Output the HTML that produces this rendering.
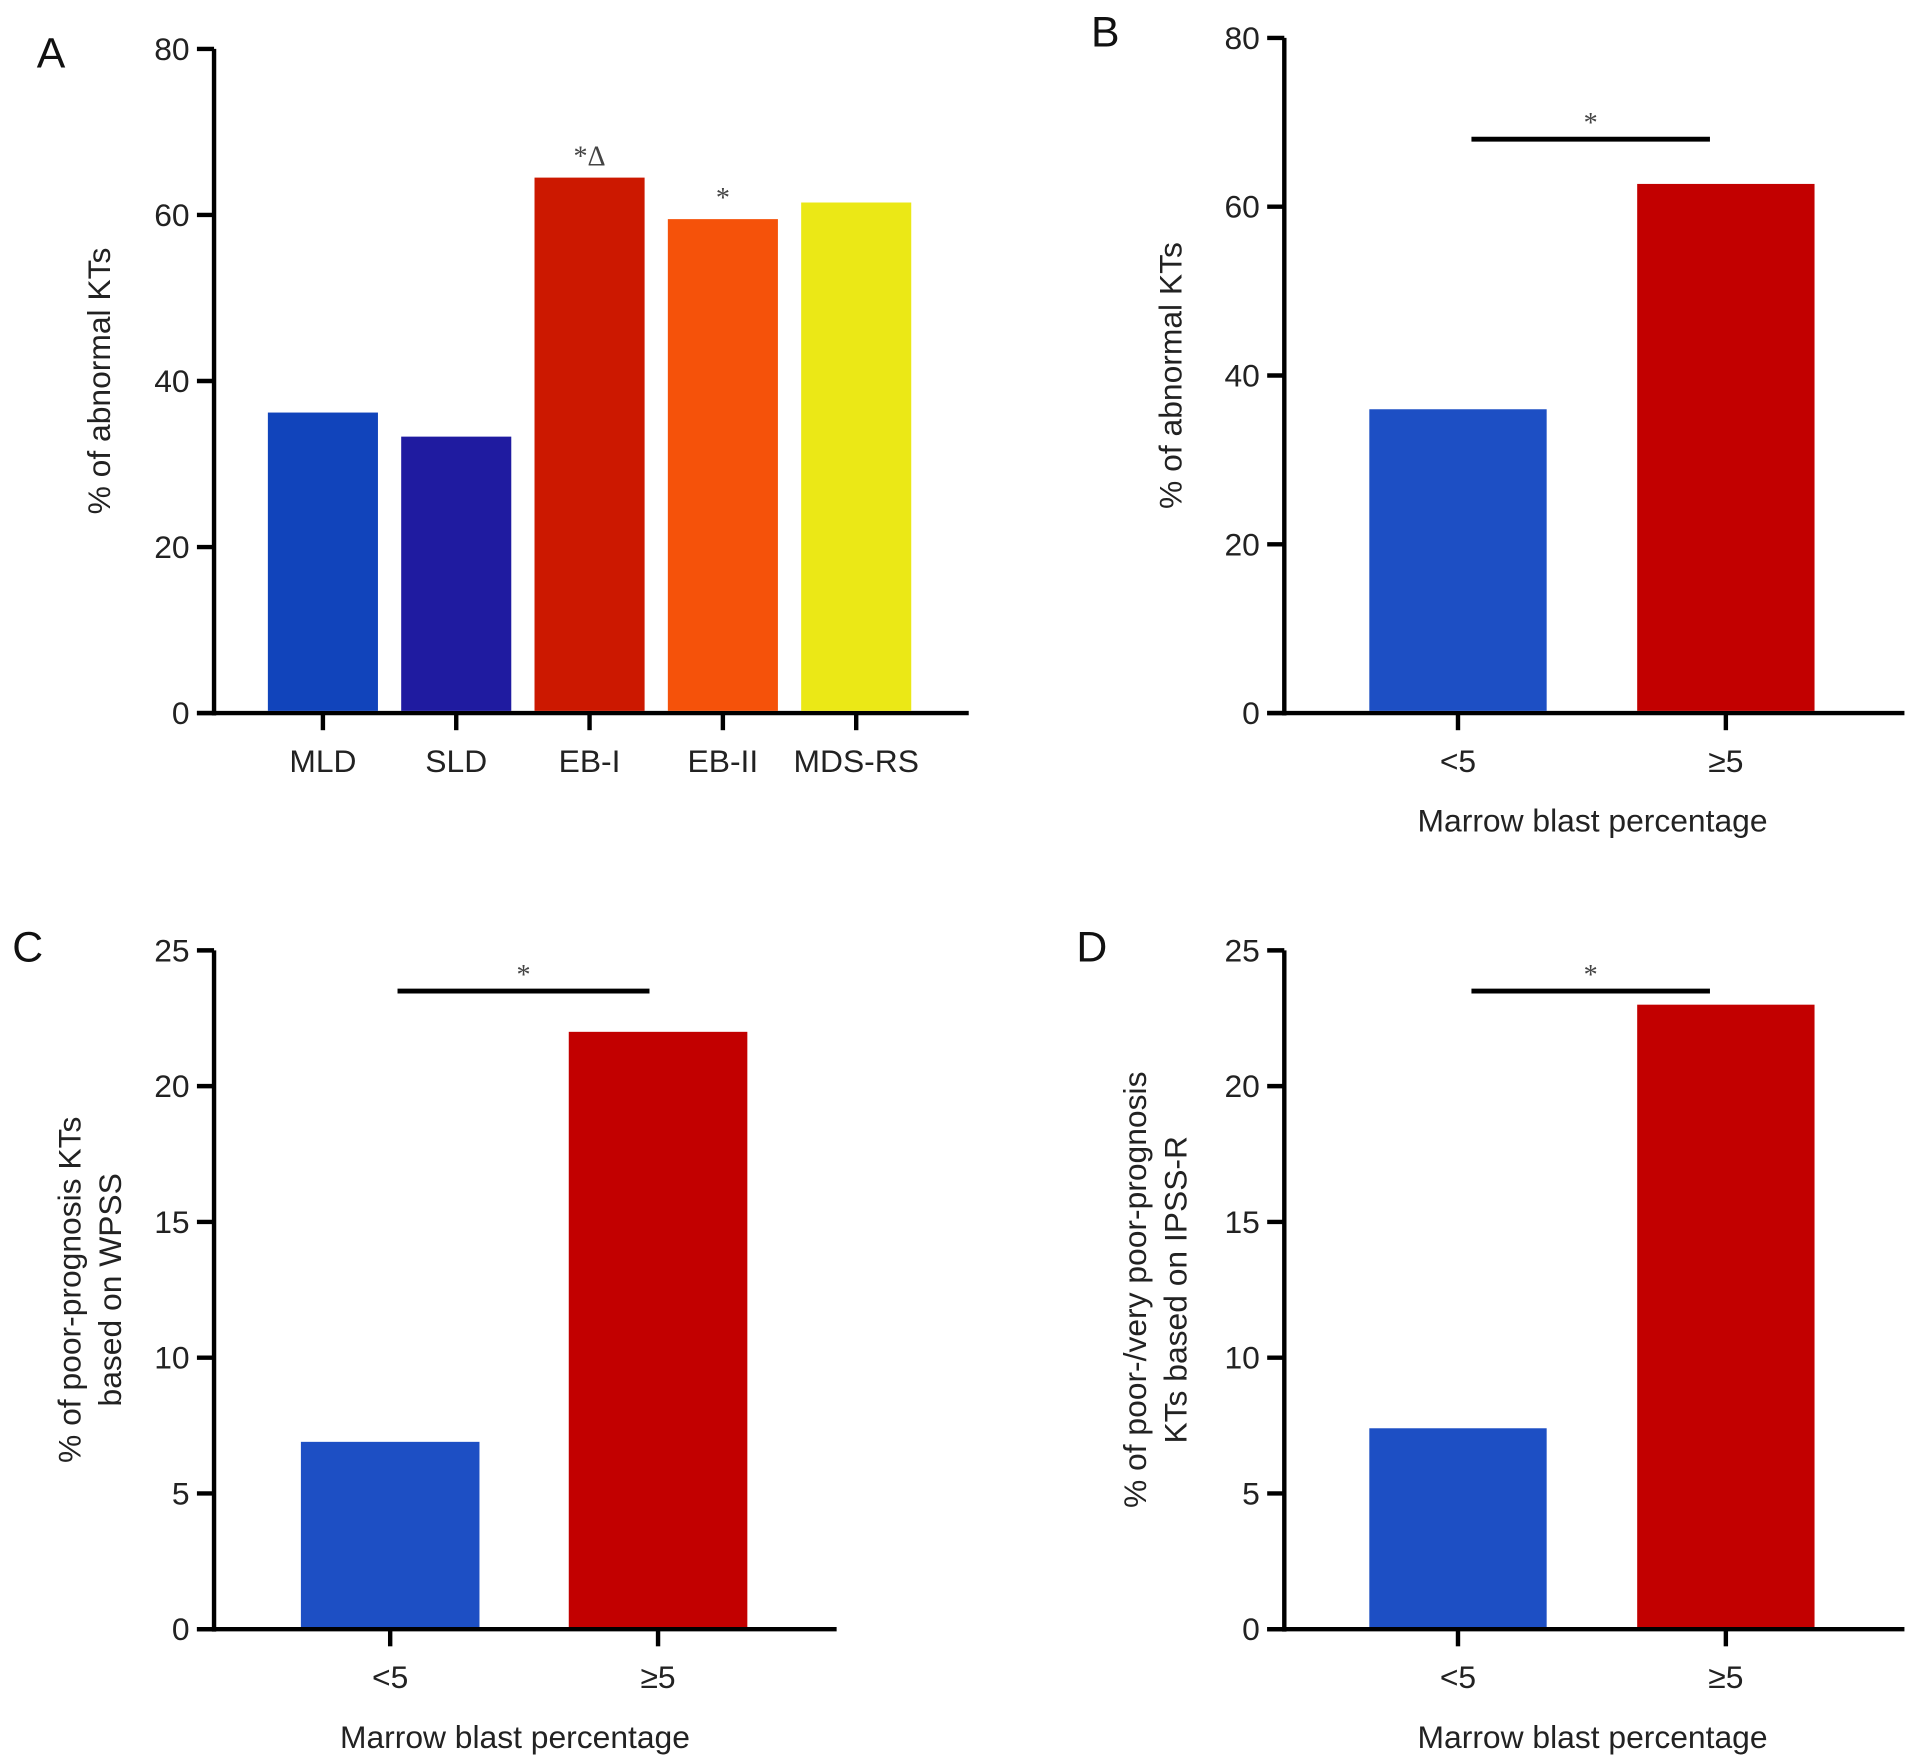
<!DOCTYPE html>
<html><head><meta charset="utf-8"><style>
html,body{margin:0;padding:0;background:#fff;}
svg{display:block;font-family:"Liberation Sans",sans-serif;}
</style></head><body>
<svg id="fig" width="1913" height="1758" viewBox="0 0 1564 1437.3" preserveAspectRatio="none" xmlns="http://www.w3.org/2000/svg"></svg>
<script>
// Panel A data
const catsA = ["MLD","SLD","EB-I","EB-II","MDS-RS"];
const valsA = [36.2,33.3,64.5,59.5,61.5];
const colsA = ["#1144bb","#1f1ba0","#cc1800","#f5520a","#ebe816"];
const annA = ["","","*\u0394","*",""];
const ticksA = [0,20,40,60,80];
// Panel B
const catsB = ["<5","\u22655"];
const valsB = [36,62.7];
const ticksB = [0,20,40,60,80];
// Panel C
const valsC = [6.9,22];
const ticksC = [0,5,10,15,20,25];
// Panel D
const valsD = [7.4,23];
const ticksD = [0,5,10,15,20,25];
const cols2 = ["#1d4fc4","#c20000"];

const svg = document.getElementById('fig');
const NS = "http://www.w3.org/2000/svg";
function mk(tag, attrs, text){
  const e=document.createElementNS(NS,tag);
  for(const k in attrs) e.setAttribute(k,attrs[k]);
  if(text!==undefined) e.textContent=text;
  svg.appendChild(e); return e;
}

function panel(p){
  const y=v=>p.y0-(v/p.max)*(p.y0-p.yTop);
  const ax=mk('line',{x1:p.ax,y1:p.yTop,x2:p.ax,y2:p.y0+2,stroke:'#000','stroke-width':3.6});
  
  
  const xa=mk('line',{x1:p.ax-14,y1:p.y0,x2:p.xEnd,y2:p.y0,stroke:'#000','stroke-width':3.6});
  
  
  p.ticks.forEach(t=>{
    const ty=y(t);
    const tl=mk('line',{x1:p.ax-14,y1:ty,x2:p.ax,y2:ty,stroke:'#000','stroke-width':3.6});
    
    
    const tt=mk('text',{x:p.ax-20,y:ty+9,'text-anchor':'end','font-size':26,fill:'#222'},String(t));
    
    
  });
  p.vals.forEach((v,i)=>{
    const cx=p.x0+i*p.step;
    const r=mk('rect',{x:cx-p.bw/2,y:y(v),width:p.bw,height:p.y0-1.8-y(v),fill:p.cols[i]});
    
    
    const tk=mk('line',{x1:cx,y1:p.y0,x2:cx,y2:p.y0+14,stroke:'#000','stroke-width':3.6});
    
    
    const lb=mk('text',{x:cx,y:p.y0+48,'text-anchor':'middle','font-size':26,fill:'#222'},p.cats[i]);
    
    
    if(p.ann && p.ann[i]){
      const a=mk('text',{x:cx,y:y(v)-10,'text-anchor':'middle','font-size':23,fill:'#444','font-family':'Liberation Serif, serif'},p.ann[i]);
      
      
    }
  });
  if(p.sig){
    const sy=y(p.sig.v);
    const l=mk('line',{x1:p.sig.x1,y1:sy,x2:p.sig.x2,y2:sy,stroke:'#000','stroke-width':4});
    
    
    const s=mk('text',{x:(p.sig.x1+p.sig.x2)/2,y:sy-6,'text-anchor':'middle','font-size':23,fill:'#444','font-family':'Liberation Serif, serif'},'*');
    
    
  }
  if(p.xTitle){
    const xt=mk('text',{x:p.xTitleX,y:p.y0+97,'text-anchor':'middle','font-size':26,fill:'#222'},p.xTitle);
    
    
  }
  p.yTitle.forEach((line,i)=>{
    const tx=p.yTitleX+i*33, ty=(p.y0+p.yTop)/2;
    const t=mk('text',{x:tx,y:ty,'text-anchor':'middle','font-size':26,fill:'#222',transform:`rotate(-90 ${tx} ${ty})`},line);
    
    
  });
  const L=mk('text',{x:p.lx,y:p.ly,'font-size':35,fill:'#111'},p.letter);
  
  
}

panel({id:'panel-a',letter:'A',lx:30,ly:55,ax:175,y0:583,yTop:40,max:80,xEnd:792,x0:264,step:109,bw:90,
  vals:valsA,cats:catsA,cols:colsA,ann:annA,ticks:ticksA,yTitle:['% of abnormal KTs'],yTitleX:90});
panel({id:'panel-b',letter:'B',lx:892,ly:38,ax:1050,y0:583,yTop:31,max:80,xEnd:1557,x0:1192,step:219,bw:145,
  vals:valsB,cats:catsB,cols:cols2,ticks:ticksB,sig:{x1:1203,x2:1398,v:68},xTitle:'Marrow blast percentage',xTitleX:1302,
  yTitle:['% of abnormal KTs'],yTitleX:966});
panel({id:'panel-c',letter:'C',lx:10,ly:786,ax:175,y0:1332,yTop:777,max:25,xEnd:684,x0:319,step:219,bw:146,
  vals:valsC,cats:catsB,cols:cols2,ticks:ticksC,sig:{x1:325,x2:531,v:23.5},xTitle:'Marrow blast percentage',xTitleX:421,
  yTitle:['% of poor-prognosis KTs','based on WPSS'],yTitleX:66});
panel({id:'panel-d',letter:'D',lx:880,ly:786,ax:1050,y0:1332,yTop:777,max:25,xEnd:1557,x0:1192,step:219,bw:145,
  vals:valsD,cats:catsB,cols:cols2,ticks:ticksD,sig:{x1:1203,x2:1398,v:23.5},xTitle:'Marrow blast percentage',xTitleX:1302,
  yTitle:['% of poor-/very poor-prognosis','KTs based on IPSS-R'],yTitleX:937});
</script>
</body></html>
